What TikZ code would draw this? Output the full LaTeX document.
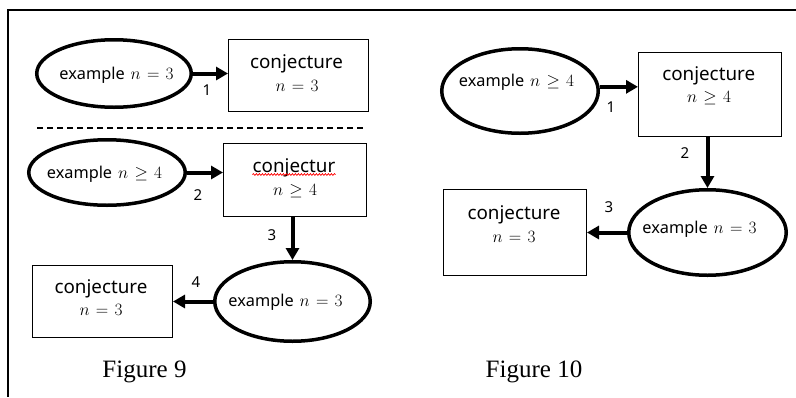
\documentclass[tikz,border=0pt]{standalone}
\usepackage{fontspec}
\setmainfont{Liberation Serif}
\newfontfamily\diagfont{Noto Sans}
\usetikzlibrary{shapes.geometric,arrows.meta,decorations.pathmorphing}
\newcommand{\mth}[1]{{\fontsize{18.5}{20}\selectfont\thickmuskip=6.5mu$#1$}}
\tikzset{
  ell/.style={draw, ellipse, line width=3.5pt, inner sep=0pt},
  boxn/.style={draw, rectangle, line width=1.3pt, inner sep=0pt},
  etext/.style={font=\diagfont\fontsize{16.3}{18}\selectfont, anchor=base, inner sep=0pt},
  btext/.style={font=\diagfont\fontsize{18.8}{22}\selectfont, anchor=base, inner sep=0pt},
  lab/.style={font=\diagfont\fontsize{15}{17}\selectfont, inner sep=0pt},
  arr/.style={line width=4pt, -{Triangle[length=12pt,width=13pt]}},
  figcap/.style={font=\fontsize{25}{30}\selectfont, anchor=base, inner sep=0pt},
  wavy/.style={red, line width=0.7pt, decorate, decoration={snake, amplitude=0.9pt, segment length=3pt}}
}
\begin{document}
\begin{tikzpicture}[x=1pt,y=-1pt]
\useasboundingbox (0,0) rectangle (796,397);
\draw[line width=2pt] (796,10) -- (8,10) -- (8,397);

% ---------- Figure 9 ----------
\node[ell, minimum width=154.5pt, minimum height=67.5pt] (e1) at (114,73.5) {};
\node[etext] (e1t) at (116.5,79) {example\hspace{6pt}\mth{n=3}};
\node[boxn, minimum width=139.7pt, minimum height=71.7pt] (b1) at (298.5,75.5) {};
\node[btext] (b1a) at (296.5,68) {conjecture};
\node[btext] (b1b) at (297,91) {\mth{n=3}};
\draw[arr] (e1.east) -- (e1.east -| b1.west);
\node[lab] (l1) at (207,90) {1};

\draw[line width=1.2pt, dash pattern=on 6pt off 4pt] (37,128) -- (365,128);

\node[ell, minimum width=156.5pt, minimum height=65.5pt] (e2) at (107,172.5) {};
\node[etext] (e2t) at (104.5,178) {example\hspace{6pt}\mth{n\geq 4}};
\node[boxn, minimum width=142.7pt, minimum height=72.7pt] (b2) at (295,180) {};
\node[btext] (b2a) at (294,172) {conjectur};
\node[btext] (b2b) at (295,195) {\mth{n\geq 4}};
\draw[wavy] ([yshift=-2.5pt]b2a.base west) -- ([yshift=-2.5pt]b2a.base east);
\draw[arr] (e2.east) -- (e2.east -| b2.west);
\node[lab] (l2) at (198,195) {2};

\node[ell, minimum width=155.5pt, minimum height=79.5pt] (e3) at (292.5,301.5) {};
\node[etext] (e3t) at (285.5,306) {example\hspace{6pt}\mth{n=3}};
\draw[arr] (e3.north |- b2.south) -- (e3.north);
\node[lab] (l3) at (272,235) {3};

\node[boxn, minimum width=139.7pt, minimum height=71.7pt] (b3) at (102.5,301.5) {};
\node[btext] (b3a) at (101,293) {conjecture};
\node[btext] (b3b) at (101,315) {\mth{n=3}};
\draw[arr] (e3.west) -- (e3.west -| b3.east);
\node[lab] (l4) at (196,282) {4};

\node[figcap] (f9) at (144.5,377) {Figure 9};

% ---------- Figure 10 ----------
\node[ell, minimum width=156.5pt, minimum height=84.5pt] (e4) at (520,91) {};
\node[etext] (e4t) at (516.5,86) {example\hspace{6pt}\mth{n\geq 4}};
\node[boxn, minimum width=142.7pt, minimum height=83.7pt] (b4) at (710,94.5) {};
\node[btext] (b4a) at (708.7,80) {conjecture};
\node[btext] (b4b) at (709,102) {\mth{n\geq 4}};
\draw[arr] (e4.3) -- (e4.3 -| b4.west);
\node[lab] (l5) at (611,107) {1};

\node[ell, minimum width=157.5pt, minimum height=85.5pt] (e5) at (707.5,232.5) {};
\node[etext] (e5t) at (699.5,233) {example\hspace{6pt}\mth{n=3}};
\draw[arr] (e5.north |- b4.south) -- (e5.north);
\node[lab] (l6) at (685,153) {2};

\node[boxn, minimum width=142.7pt, minimum height=85.7pt] (b5) at (515,232.5) {};
\node[btext] (b5a) at (514,219) {conjecture};
\node[btext] (b5b) at (514,242) {\mth{n=3}};
\draw[arr] (e5.west) -- (e5.west -| b5.east);
\node[lab] (l7) at (609,207) {3};

\node[figcap] (f10) at (534,377) {Figure 10};
\end{tikzpicture}
\end{document}
